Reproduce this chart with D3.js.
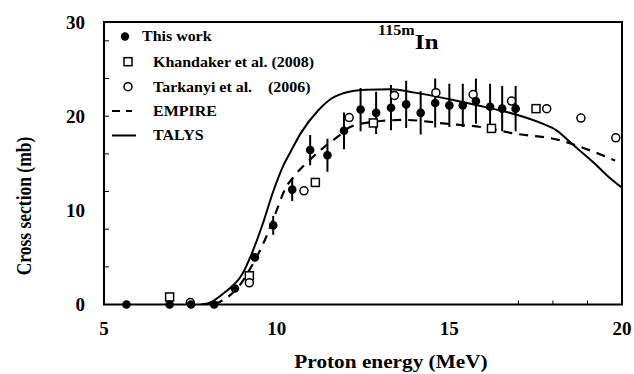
<!DOCTYPE html>
<html><head><meta charset="utf-8">
<script src="https://cdn.jsdelivr.net/npm/d3@7"></script>
<style>
html,body{margin:0;padding:0;background:#fff;}
svg text{font-family:"Liberation Serif","Times New Roman",serif;font-weight:bold;fill:#000;}
</style></head>
<body>
<svg id="chart" width="634" height="374"></svg>
<script>
// ---- data ----
const thisWorkE   = [5.65, 6.9, 7.52, 8.19, 8.79, 9.37, 9.9, 10.45, 10.97, 11.47, 11.95, 12.43, 12.88, 13.31, 13.75, 14.17, 14.59, 15.0, 15.39, 15.77, 16.18, 16.53, 16.92];
const thisWorkXS  = [0, 0, 0, 0, 1.7, 5.0, 8.4, 12.2, 16.4, 15.85, 18.45, 20.7, 20.35, 20.9, 21.25, 20.35, 21.4, 21.15, 21.15, 21.6, 21.0, 20.8, 20.8];
const thisWorkErr = [0, 0, 0, 0, 0.2, 0.4, 1.0, 1.2, 1.6, 1.75, 1.95, 2.3, 2.25, 2.4, 2.5, 2.3, 2.6, 2.3, 2.3, 2.4, 2.45, 2.4, 2.4];
const khandakerE  = [6.9, 9.21, 11.12, 12.8, 16.22, 17.51];
const khandakerXS = [0.8, 3.05, 12.96, 19.28, 18.7, 20.8];
const tarkanyiE   = [7.5, 9.21, 10.79, 12.1, 13.41, 14.61, 15.69, 16.8, 17.82, 18.81, 19.82];
const tarkanyiXS  = [0.2, 2.3, 12.07, 19.85, 22.2, 22.5, 22.3, 21.6, 20.8, 19.8, 17.7];
const empireE     = [8.2, 8.5, 8.75, 9.0, 9.2, 9.4, 9.7, 10.0, 10.25, 10.5, 11.0, 11.4, 11.8, 12.1, 12.8, 13.7, 14.9, 15.9, 16.9, 18.2, 18.9, 19.8];
const empireXS    = [0, 0.6, 1.3, 2.4, 3.6, 4.9, 7.2, 10.0, 12.3, 13.6, 15.5, 16.8, 17.9, 18.8, 19.4, 19.6, 19.2, 18.85, 18.15, 17.45, 16.6, 15.3];
const talysE      = [7.8, 8.0, 8.5, 9.0, 9.3, 9.6, 9.9, 10.2, 10.4, 10.7, 11.2, 11.6, 12.1, 12.6, 13.3, 14.0, 15.0, 16.0, 17.0, 17.7, 18.1, 18.6, 19.2, 19.6, 20.0];
const talysXS     = [0, 0.1, 1.3, 3.2, 5.6, 8.6, 12.0, 14.8, 16.2, 18.2, 20.6, 21.9, 22.6, 22.8, 22.85, 22.5, 21.8, 21.0, 20.1, 19.2, 18.5, 16.9, 15.0, 13.6, 12.4];
const xTickLabels = [5, 10, 15, 20];
const xMinorTicks = [17, 18, 19];
const yTickLabels = [0, 10, 20, 30];
const yMinorTicks = [4, 8, 12, 16, 20, 24, 28];
const legendLabels = ["This work", "Khandaker et al. (2008)", "Tarkanyi et al.    (2006)", "EMPIRE", "TALYS"];

// ---- layout ----
const svg = d3.select("#chart");
const L = 104, R = 622, T = 22, B = 304.5;
const x = d3.scaleLinear().domain([5, 20]).range([L, R]);
const y = d3.scaleLinear().domain([0, 30]).range([B, T]);

svg.append("defs").append("clipPath").attr("id", "clip")
  .append("rect").attr("x", L).attr("y", T).attr("width", R - L).attr("height", B - T);

// curves
const line = d3.line().x(d => x(d[0])).y(d => y(d[1])).curve(d3.curveMonotoneX);
const plot = svg.append("g").attr("clip-path", "url(#clip)");
plot.append("path").datum(talysE.map((e, i) => [e, talysXS[i]]))
  .attr("d", line).attr("fill", "none").attr("stroke", "#000").attr("stroke-width", 2);
plot.append("path").datum(empireE.map((e, i) => [e, empireXS[i]]))
  .attr("d", line).attr("fill", "none").attr("stroke", "#000").attr("stroke-width", 2.2)
  .attr("stroke-dasharray", "9,7");

// error bars
const tw = thisWorkE.map((e, i) => ({e, v: thisWorkXS[i], err: thisWorkErr[i]}));
plot.selectAll(".err").data(tw.filter(d => d.err > 0)).enter().append("line")
  .attr("x1", d => x(d.e)).attr("x2", d => x(d.e))
  .attr("y1", d => y(d.v - d.err)).attr("y2", d => y(d.v + d.err))
  .attr("stroke", "#000").attr("stroke-width", 2);

// Khandaker squares
const sq = 8;
plot.selectAll(".sq").data(khandakerE.map((e, i) => [e, khandakerXS[i]])).enter().append("rect")
  .attr("x", d => x(d[0]) - sq / 2).attr("y", d => y(d[1]) - sq / 2)
  .attr("width", sq).attr("height", sq)
  .attr("fill", "#fff").attr("stroke", "#000").attr("stroke-width", 1.5);

// Tarkanyi open circles
plot.selectAll(".oc").data(tarkanyiE.map((e, i) => [e, tarkanyiXS[i]])).enter().append("circle")
  .attr("cx", d => x(d[0])).attr("cy", d => y(d[1])).attr("r", 4)
  .attr("fill", "#fff").attr("stroke", "#000").attr("stroke-width", 1.5);

// This work filled circles
svg.selectAll(".fc").data(tw).enter().append("circle")
  .attr("cx", d => x(d.e)).attr("cy", d => y(d.v)).attr("r", 4.3).attr("fill", "#000");

// frame
svg.append("rect").attr("x", L).attr("y", T).attr("width", R - L).attr("height", B - T)
  .attr("fill", "none").attr("stroke", "#000").attr("stroke-width", 2);

// minor ticks
svg.selectAll(".ytk").data(yMinorTicks).enter().append("line")
  .attr("x1", L).attr("x2", L + 5).attr("y1", d => y(d)).attr("y2", d => y(d))
  .attr("stroke", "#000").attr("stroke-width", 1);
svg.selectAll(".xtk").data(xMinorTicks).enter().append("line")
  .attr("x1", d => x(d)).attr("x2", d => x(d)).attr("y1", B).attr("y2", B - 4)
  .attr("stroke", "#000").attr("stroke-width", 1);

// tick labels
svg.selectAll(".yl").data(yTickLabels).enter().append("text")
  .attr("x", 85).attr("y", d => y(d)).attr("dy", "0.35em")
  .attr("text-anchor", "end").attr("font-size", 19).text(d => d);
svg.selectAll(".xl").data(xTickLabels).enter().append("text")
  .attr("x", d => x(d)).attr("y", 328).attr("dy", "0.35em")
  .attr("text-anchor", "middle").attr("font-size", 19).text(d => d);

// axis titles
svg.append("text").attr("transform", "translate(391,368) scale(1.12,1)").attr("text-anchor", "middle")
  .attr("font-size", 19).text("Proton energy (MeV)");
svg.append("text").attr("transform", "translate(31,206) scale(1.2,1) rotate(-90)")
  .attr("text-anchor", "middle").attr("font-size", 17.5).text("Cross section (mb)");

// title
const ttl = svg.append("text").attr("transform", "translate(378,49) scale(1.15,1)");
ttl.append("tspan").attr("font-size", 14).attr("dy", -14).text("115m");
ttl.append("tspan").attr("font-size", 22).attr("dy", 14).text("In");

// legend
const lg = svg.append("g");
const ly = [36.5, 61.7, 86.7, 111, 135.5];
lg.append("circle").attr("cx", 125).attr("cy", ly[0]).attr("r", 4.2).attr("fill", "#000");
lg.append("rect").attr("x", 128 - 4).attr("y", ly[1] - 4).attr("width", 8).attr("height", 8)
  .attr("fill", "#fff").attr("stroke", "#000").attr("stroke-width", 1.5);
lg.append("circle").attr("cx", 128).attr("cy", ly[2]).attr("r", 4)
  .attr("fill", "#fff").attr("stroke", "#000").attr("stroke-width", 1.5);
lg.append("line").attr("x1", 112).attr("x2", 132).attr("y1", ly[3]).attr("y2", ly[3])
  .attr("stroke", "#000").attr("stroke-width", 2).attr("stroke-dasharray", "8,6");
lg.append("line").attr("x1", 112).attr("x2", 136).attr("y1", ly[4]).attr("y2", ly[4])
  .attr("stroke", "#000").attr("stroke-width", 2);
const lx = [142, 153, 153, 153, 153];
lg.selectAll(".lt").data(legendLabels).enter().append("text")
  .attr("transform", (d, i) => `translate(${lx[i]},${ly[i]}) scale(1.14,1)`).attr("dy", "0.35em")
  .attr("font-size", 14).attr("xml:space", "preserve").style("white-space", "pre").text(d => d);
</script>
</body></html>
